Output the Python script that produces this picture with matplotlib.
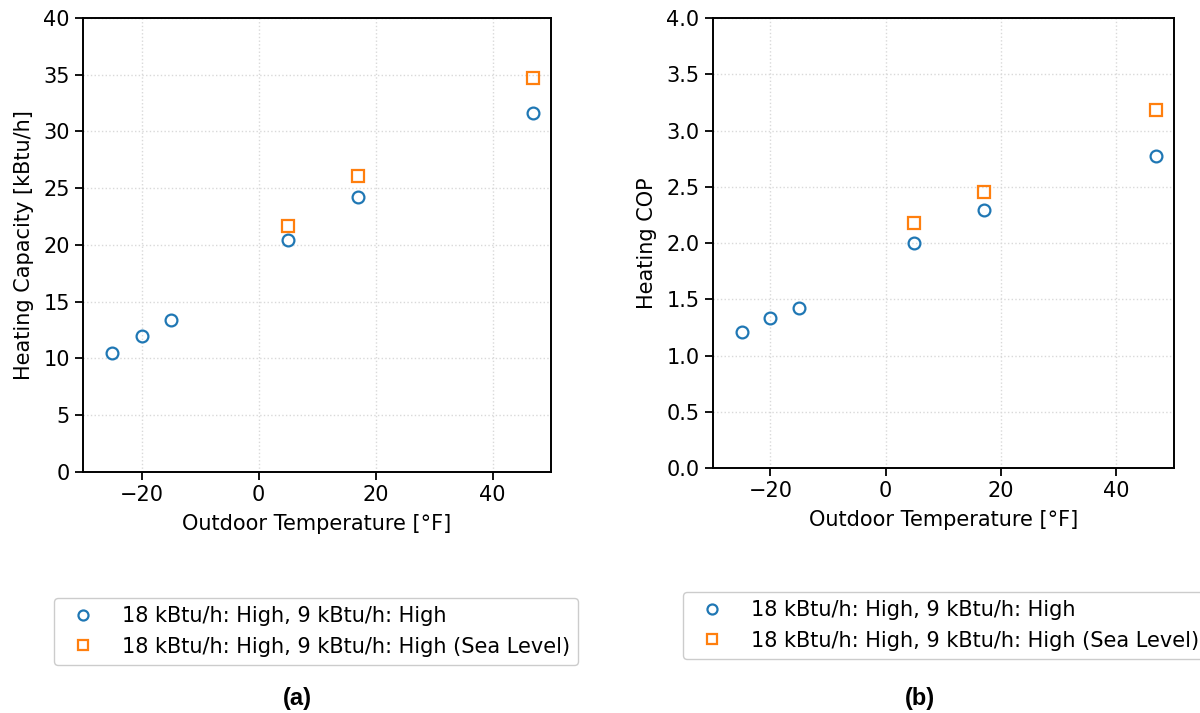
import matplotlib
matplotlib.use("Agg")
import matplotlib.pyplot as plt
from matplotlib.ticker import FormatStrFormatter

# Outdoor temperatures [°F]
temps_high = [-25, -20, -15, 5, 17, 47]
temps_sea = [5, 17, 47]

# Heating capacity [kBtu/h]
cap_high = [10.5, 11.95, 13.4, 20.4, 24.2, 31.6]
cap_sea = [21.7, 26.05, 34.7]

# Heating COP
cop_high = [1.21, 1.33, 1.42, 2.0, 2.29, 2.77]
cop_sea = [2.18, 2.45, 3.18]

label_high = "18 kBtu/h: High, 9 kBtu/h: High"
label_sea = "18 kBtu/h: High, 9 kBtu/h: High (Sea Level)"
panel_labels = ["(a)", "(b)"]

plt.rcParams["font.family"] = "DejaVu Sans"
plt.rcParams["font.size"] = 15

fig = plt.figure(figsize=(12, 7.13), dpi=100)
ax1 = fig.add_axes([0.0692, 0.338, 0.390, 0.637])
ax2 = fig.add_axes([0.594, 0.3436, 0.384, 0.631])

blue = "#1f77b4"
orange = "#ff7f0e"


def draw(ax, yh, ys, ylabel, ylim, yticks):
    ax.plot(temps_high, yh, "o", mfc="none", mec=blue, mew=1.6, ms=8.5, label=label_high)
    ax.plot(temps_sea, ys, "s", mfc="none", mec=orange, mew=1.6, ms=8.5, label=label_sea)
    ax.set_xlim(-30, 50)
    ax.set_ylim(*ylim)
    ax.set_xticks([-20, 0, 20, 40])
    ax.set_yticks(yticks)
    ax.grid(True, linestyle=":", color="#d9d9d9", linewidth=1)
    ax.set_axisbelow(True)
    ax.set_xlabel("Outdoor Temperature [°F]", labelpad=6)
    ax.set_ylabel(ylabel, labelpad=7)
    ax.tick_params(length=6, width=1.3)
    for s in ax.spines.values():
        s.set_linewidth(1.4)


draw(ax1, cap_high, cap_sea, "Heating Capacity [kBtu/h]", (0, 40), range(0, 41, 5))
draw(ax2, cop_high, cop_sea, "Heating COP", (0, 4.0),
     [0.0, 0.5, 1.0, 1.5, 2.0, 2.5, 3.0, 3.5, 4.0])
ax2.yaxis.set_major_formatter(FormatStrFormatter("%.1f"))

for ax, anchor in ((ax1, (54 / 1200, 1 - 598 / 713)), (ax2, (683 / 1200, 1 - 592 / 713))):
    h, l = ax.get_legend_handles_labels()
    fig.legend(h, l, loc="upper left", bbox_to_anchor=anchor,
               bbox_transform=fig.transFigure, fontsize=15, markerscale=0.85,
               handlelength=2.0, handletextpad=0.85, borderpad=0.4,
               labelspacing=0.5, borderaxespad=0, framealpha=1,
               edgecolor="#cccccc")

fig.text(297 / 1200, 1 - 698 / 713, panel_labels[0], ha="center", va="center",
         fontsize=17, fontweight="bold", family="Liberation Sans")
fig.text(920 / 1200, 1 - 698 / 713, panel_labels[1], ha="center", va="center",
         fontsize=17, fontweight="bold", family="Liberation Sans")

fig.savefig("out.png", dpi=100)
